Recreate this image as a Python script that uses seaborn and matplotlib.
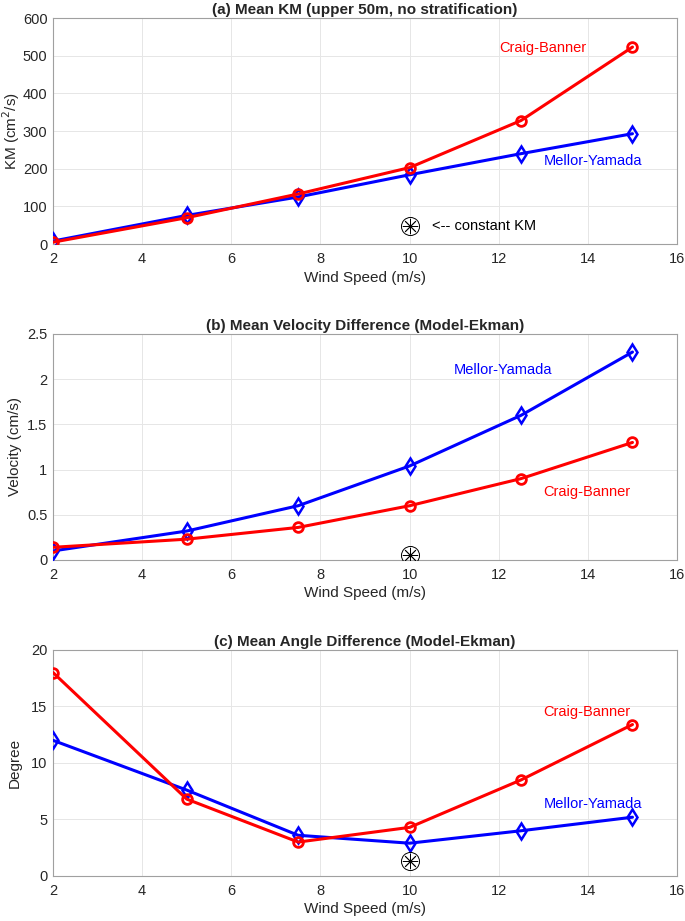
import numpy as np
import pandas as pd
import matplotlib
matplotlib.use('Agg')
import matplotlib.pyplot as plt
import seaborn as sns

# Data
wind = [2, 5, 7.5, 10, 12.5, 15]

km_cb = [5, 70, 133, 203, 328, 523]
km_my = [8, 76, 125, 184, 240, 293]
km_const = 48

vel_cb = [0.14, 0.23, 0.36, 0.60, 0.90, 1.30]
vel_my = [0.10, 0.32, 0.60, 1.04, 1.60, 2.30]
vel_const = 0.05

ang_cb = [18.0, 6.8, 3.0, 4.3, 8.5, 13.4]
ang_my = [12.0, 7.6, 3.6, 2.9, 4.0, 5.2]
ang_const = 1.3
const_wind = 10

titles = ['(a) Mean KM (upper 50m, no stratification)',
          '(b) Mean Velocity Difference (Model-Ekman)',
          '(c) Mean Angle Difference (Model-Ekman)']
ylabels = ['KM (cm$^2$/s)', 'Velocity (cm/s)', 'Degree']
ylims = [(0, 600), (0, 2.5), (0, 20)]
yticks = [np.arange(0, 601, 100), np.arange(0, 2.51, 0.5), np.arange(0, 21, 5)]

# label positions (data coords)
cb_text = [(12, 520), (13, 0.75), (13, 14.5)]
my_text = [(13, 220), (11, 2.1), (13, 6.4)]

sns.set_theme(style='whitegrid')
plt.rcParams['font.family'] = ['Liberation Sans', 'DejaVu Sans']

fig = plt.figure(figsize=(6.85, 9.21), dpi=100)
bottoms = [0.735, 0.392, 0.0489]
axes = [fig.add_axes([0.0774, b, 0.911, 0.2454]) for b in bottoms]

series = [(km_cb, km_my, km_const), (vel_cb, vel_my, vel_const), (ang_cb, ang_my, ang_const)]

for i, ax in enumerate(axes):
    cb, my, const = series[i]
    sns.lineplot(x=wind, y=my, ax=ax, color='blue', linewidth=2.2, marker='d',
                 markersize=8, markerfacecolor='none', markeredgecolor='blue',
                 markeredgewidth=1.8, zorder=3)
    sns.lineplot(x=wind, y=cb, ax=ax, color='red', linewidth=2.2, marker='o',
                 markersize=7, markerfacecolor='none', markeredgecolor='red',
                 markeredgewidth=2.0, zorder=4)
    # constant KM marker
    ax.plot([const_wind], [const], marker='o', markersize=13, markerfacecolor='none',
            markeredgecolor='black', markeredgewidth=0.7, linestyle='none', zorder=5)
    ax.plot([const_wind], [const], marker=(8, 2, 0), markersize=11,
            markeredgecolor='black', markeredgewidth=0.6, linestyle='none', zorder=5)

    ax.set_xlim(2, 16)
    ax.set_ylim(*ylims[i])
    ax.set_xticks(np.arange(2, 17, 2))
    ax.set_yticks(yticks[i])
    ax.set_xticklabels([str(v) for v in range(2, 17, 2)])
    if i == 1:
        ax.set_yticklabels(['0', '0.5', '1', '1.5', '2', '2.5'])
    ax.set_title(titles[i], fontsize=11, fontweight='bold', pad=3)
    ax.set_xlabel('Wind Speed (m/s)', fontsize=11, color='#262626', labelpad=3)
    ax.set_ylabel(ylabels[i], fontsize=11, color='#262626')
    ax.yaxis.set_label_coords(-0.05, 0.5)
    ax.tick_params(axis='both', labelsize=10.5, colors='#262626', direction='in',
                   length=3, width=0.6)
    ax.tick_params(axis='x', pad=6)
    ax.tick_params(axis='y', pad=4)
    ax.grid(True, color='#e6e6e6', linewidth=0.7)
    for sp in ax.spines.values():
        sp.set_color('#a0a0a0')
        sp.set_linewidth(0.8)
    ax.set_facecolor('white')

    ax.text(cb_text[i][0], cb_text[i][1], 'Craig-Banner', color='red', fontsize=10.5,
            va='center', ha='left')
    ax.text(my_text[i][0], my_text[i][1], 'Mellor-Yamada', color='blue', fontsize=10.5,
            va='center', ha='left')

axes[0].text(10.5, km_const, '<-- constant KM', color='black', fontsize=10.5,
             va='center', ha='left')

fig.savefig('out.png', dpi=100)
